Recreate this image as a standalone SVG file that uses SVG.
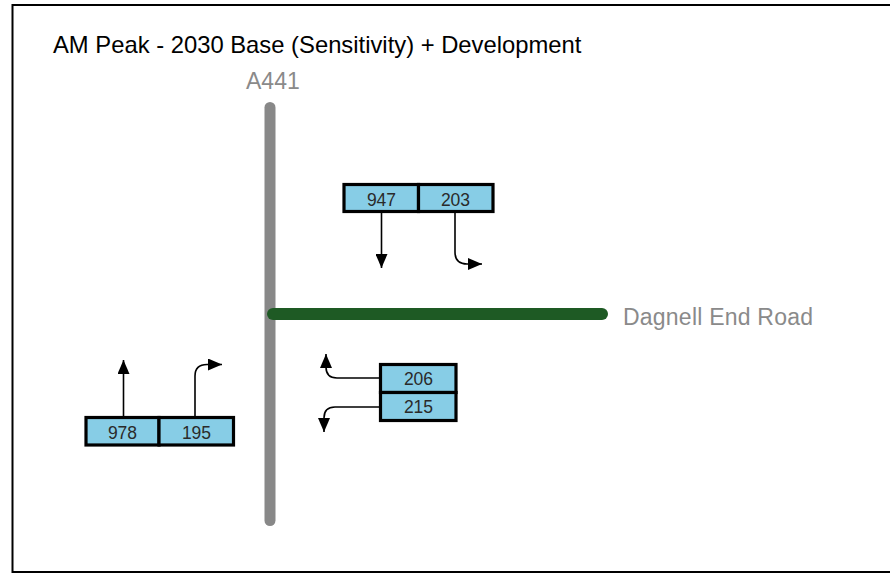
<svg xmlns="http://www.w3.org/2000/svg" width="890" height="574" viewBox="0 0 890 574">
  <style>
    .label { font-family: "Liberation Sans", Arial, sans-serif; }
    .title { font-size: 23.8px; fill: #000; }
    .road-name { font-size: 23px; fill: #8a8a8a; }
    .cell { fill: #87cde6; stroke: #000; stroke-width: 3.2; }
    .count { font-size: 17.5px; fill: #2a2a2a; text-anchor: middle; }
    .flow { fill: none; stroke: #000; stroke-width: 1.6; marker-end: url(#head); }
  </style>
  <defs>
    <marker id="head" markerUnits="userSpaceOnUse" markerWidth="15" markerHeight="12" refX="14" refY="6" orient="auto">
      <path d="M0,0 L14,6 L0,12 Z" fill="#000"/>
    </marker>
  </defs>

  <rect width="890" height="574" fill="#fff"/>
  <!-- frame, open on the right -->
  <path d="M891,5 H12.5 V572 H891" fill="none" stroke="#000" stroke-width="2"/>

  <text class="label title" x="53" y="53">AM Peak - 2030 Base (Sensitivity) + Development</text>

  <!-- roads -->
  <g id="road-a441">
    <line x1="270" y1="107.5" x2="270" y2="520.5" stroke="#888" stroke-width="11" stroke-linecap="round"/>
    <text class="label road-name" x="246" y="88.5">A441</text>
  </g>
  <g id="road-dagnell">
    <line x1="273" y1="314" x2="602" y2="314" stroke="#1e5a24" stroke-width="12" stroke-linecap="round"/>
    <text class="label road-name" x="623" y="324.5" textLength="190">Dagnell End Road</text>
  </g>

  <!-- turning movement arrows -->
  <g id="connectors">
    <path class="flow" d="M381.5,213 V268"/>
    <path class="flow" d="M455,213 V252 Q455,264 467,264 H482"/>
    <path class="flow" d="M380,378 H337 Q326,378 326,367 V354"/>
    <path class="flow" d="M380,407 H335 Q324,407 324,418 V432"/>
    <path class="flow" d="M123.5,416 V360"/>
    <path class="flow" d="M195,416 V376 Q195,364.5 207,364.5 H222"/>
  </g>

  <!-- count boxes -->
  <g id="box-947">
    <rect class="cell" x="344" y="184.5" width="74.5" height="27"/>
    <text class="label count" x="381.5" y="205.5">947</text>
  </g>
  <g id="box-203">
    <rect class="cell" x="418.5" y="184.5" width="74.5" height="27"/>
    <text class="label count" x="455.5" y="205.5">203</text>
  </g>
  <g id="box-206">
    <rect class="cell" x="380.5" y="364.5" width="75.5" height="28"/>
    <text class="label count" x="418.5" y="384.5">206</text>
  </g>
  <g id="box-215">
    <rect class="cell" x="380.5" y="392.5" width="75.5" height="28"/>
    <text class="label count" x="418.5" y="412.5">215</text>
  </g>
  <g id="box-978">
    <rect class="cell" x="86" y="417.5" width="73" height="27.5"/>
    <text class="label count" x="122.5" y="438.5">978</text>
  </g>
  <g id="box-195">
    <rect class="cell" x="159" y="417.5" width="74.5" height="27.5"/>
    <text class="label count" x="196.5" y="438.5">195</text>
  </g>
</svg>
